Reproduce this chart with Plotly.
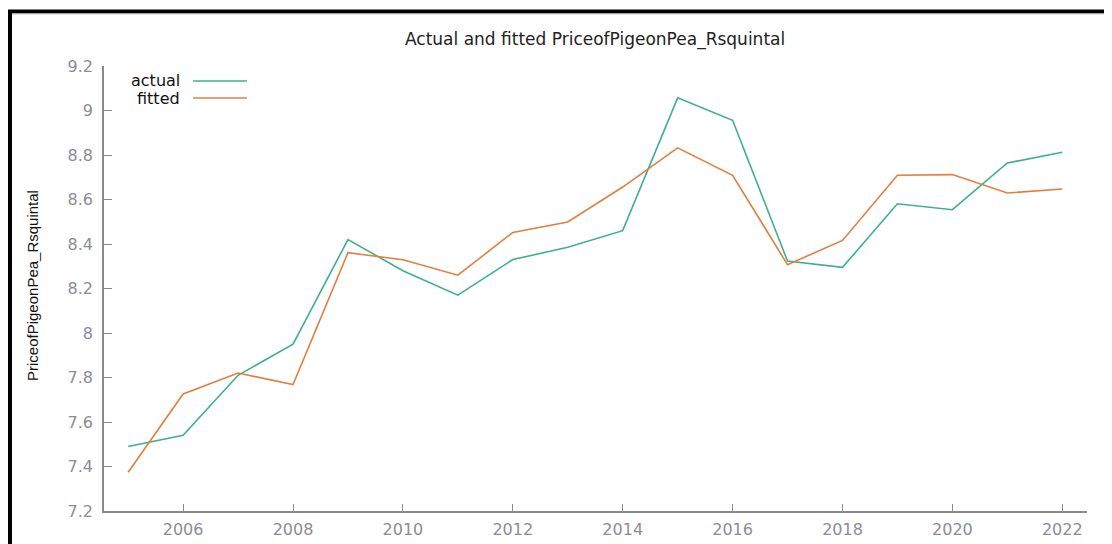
import plotly.graph_objects as go

years = list(range(2005, 2023))
actual = [7.49, 7.54, 7.81, 7.95, 8.42, 8.28, 8.17, 8.33, 8.385, 8.46,
          9.057, 8.956, 8.323, 8.295, 8.581, 8.554, 8.764, 8.812]
fitted = [7.374, 7.726, 7.82, 7.768, 8.361, 8.329, 8.26, 8.452, 8.499, 8.656,
          8.832, 8.709, 8.307, 8.416, 8.709, 8.712, 8.629, 8.647]

y_tickvals = [7.2, 7.4, 7.6, 7.8, 8.0, 8.2, 8.4, 8.6, 8.8, 9.0, 9.2]
y_ticktext = ["7.2", "7.4", "7.6", "7.8", "8", "8.2", "8.4", "8.6", "8.8", "9", "9.2"]
x_tickvals = [2006, 2008, 2010, 2012, 2014, 2016, 2018, 2020, 2022]

title_text = "Actual and fitted PriceofPigeonPea_Rsquintal"
y_title = "PriceofPigeonPea_Rsquintal"
series_names = ["actual", "fitted"]
green = "#3fb08b"
orange = "#e27f3e"

# page body has an 8px margin; work in page pixels and convert
OFF = 8
PW, PH = 1112, 544
W, H = PW - OFF, PH - OFF
# plot area in page pixels
X0, X1, Y0, Y1 = 104, 1087, 66, 511
L = X0 - OFF
R = W - (X1 - OFF)
T = Y0 - OFF
B = H - (Y1 - OFF)
pw, ph = X1 - X0, Y1 - Y0


def px(xp):
    return (xp - X0) / pw


def py(yp):
    return (Y1 - yp) / ph


fig = go.Figure()
fig.add_trace(go.Scatter(x=years, y=actual, mode="lines", name=series_names[0],
                         line=dict(color=green, width=1.6), showlegend=False))
fig.add_trace(go.Scatter(x=years, y=fitted, mode="lines", name=series_names[1],
                         line=dict(color=orange, width=1.6), showlegend=False))

axis_col = "#8a8a8a"
tick_font = dict(family="DejaVu Sans", size=16, color="#8c8c96")
fig.update_layout(
    width=W, height=H,
    margin=dict(l=L, r=R, t=T, b=B),
    paper_bgcolor="white", plot_bgcolor="white",
    showlegend=False,
    xaxis=dict(range=[2004.56, 2022.45], tickvals=x_tickvals, ticks="inside",
               ticklen=7, tickwidth=1.3, tickcolor=axis_col, showline=True,
               linecolor=axis_col, linewidth=1.5, showgrid=False, zeroline=False,
               ticklabelstandoff=3, tickfont=tick_font, automargin=False),
    yaxis=dict(range=[7.2, 9.2], tickvals=y_tickvals, ticktext=y_ticktext,
               ticks="inside", ticklen=8, tickwidth=1.3, tickcolor=axis_col,
               showline=True, linecolor=axis_col, linewidth=1.5, showgrid=False,
               zeroline=False, ticklabelstandoff=6, tickfont=tick_font,
               automargin=False),
)

annotations = [
    dict(text=title_text, x=px(595), y=py(40), xref="paper", yref="paper",
         showarrow=False, xanchor="center", yanchor="middle",
         font=dict(family="DejaVu Sans", size=17, color="#222222")),
    dict(text=y_title, x=px(32), y=py(286), xref="paper", yref="paper",
         showarrow=False, xanchor="center", yanchor="middle", textangle=-90,
         font=dict(family="Liberation Sans Narrow, Liberation Sans", size=15, color="#111111")),
    dict(text=series_names[0], x=px(182), y=py(81), xref="paper", yref="paper",
         showarrow=False, xanchor="right", yanchor="middle",
         font=dict(family="DejaVu Sans", size=16, color="#111111")),
    dict(text=series_names[1], x=px(182), y=py(98), xref="paper", yref="paper",
         showarrow=False, xanchor="right", yanchor="middle",
         font=dict(family="DejaVu Sans", size=16, color="#111111")),
]
fig.update_layout(annotations=annotations)

shapes = [
    dict(type="line", xref="paper", yref="paper", x0=px(193), x1=px(247),
         y0=py(81), y1=py(81), line=dict(color=green, width=1.6)),
    dict(type="line", xref="paper", yref="paper", x0=px(193), x1=px(247),
         y0=py(98), y1=py(98), line=dict(color=orange, width=1.6)),
    # outer black frame
    dict(type="line", xref="paper", yref="paper", x0=px(10), x1=px(10),
         y0=py(10), y1=py(560), line=dict(color="black", width=4)),
    dict(type="line", xref="paper", yref="paper", x0=px(8), x1=px(1120),
         y0=py(11.5), y1=py(11.5), line=dict(color="black", width=4)),
    dict(type="line", xref="paper", yref="paper", x0=px(12), x1=px(1120),
         y0=py(14), y1=py(14), line=dict(color="#c8c8c8", width=1)),
]
fig.update_layout(shapes=shapes)

fig.write_html("out.html")
